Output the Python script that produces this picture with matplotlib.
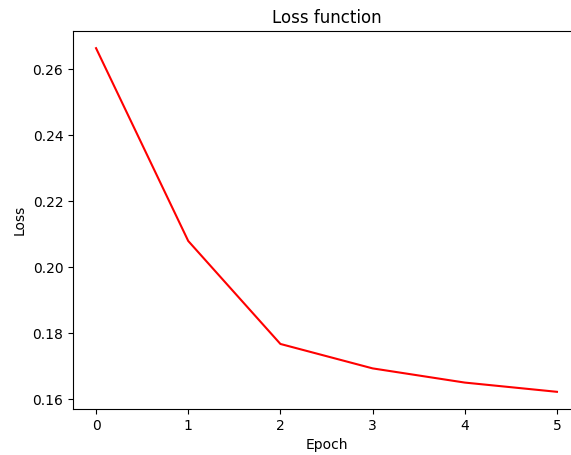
import matplotlib
matplotlib.use("Agg")
import matplotlib.pyplot as plt

epochs = [0, 1, 2, 3, 4, 5]
loss = [0.2664, 0.2080, 0.1768, 0.1694, 0.1651, 0.1623]

fig = plt.figure(figsize=(5.71, 4.55), dpi=100)
ax = fig.add_axes([73/571, 1-409/455, 507/571, (409-31)/455])
ax.plot(epochs, loss, color="red")
ax.set_title("Loss function")
ax.set_xlabel("Epoch")
ax.set_ylabel("Loss")
fig.savefig("out.png", dpi=100)
